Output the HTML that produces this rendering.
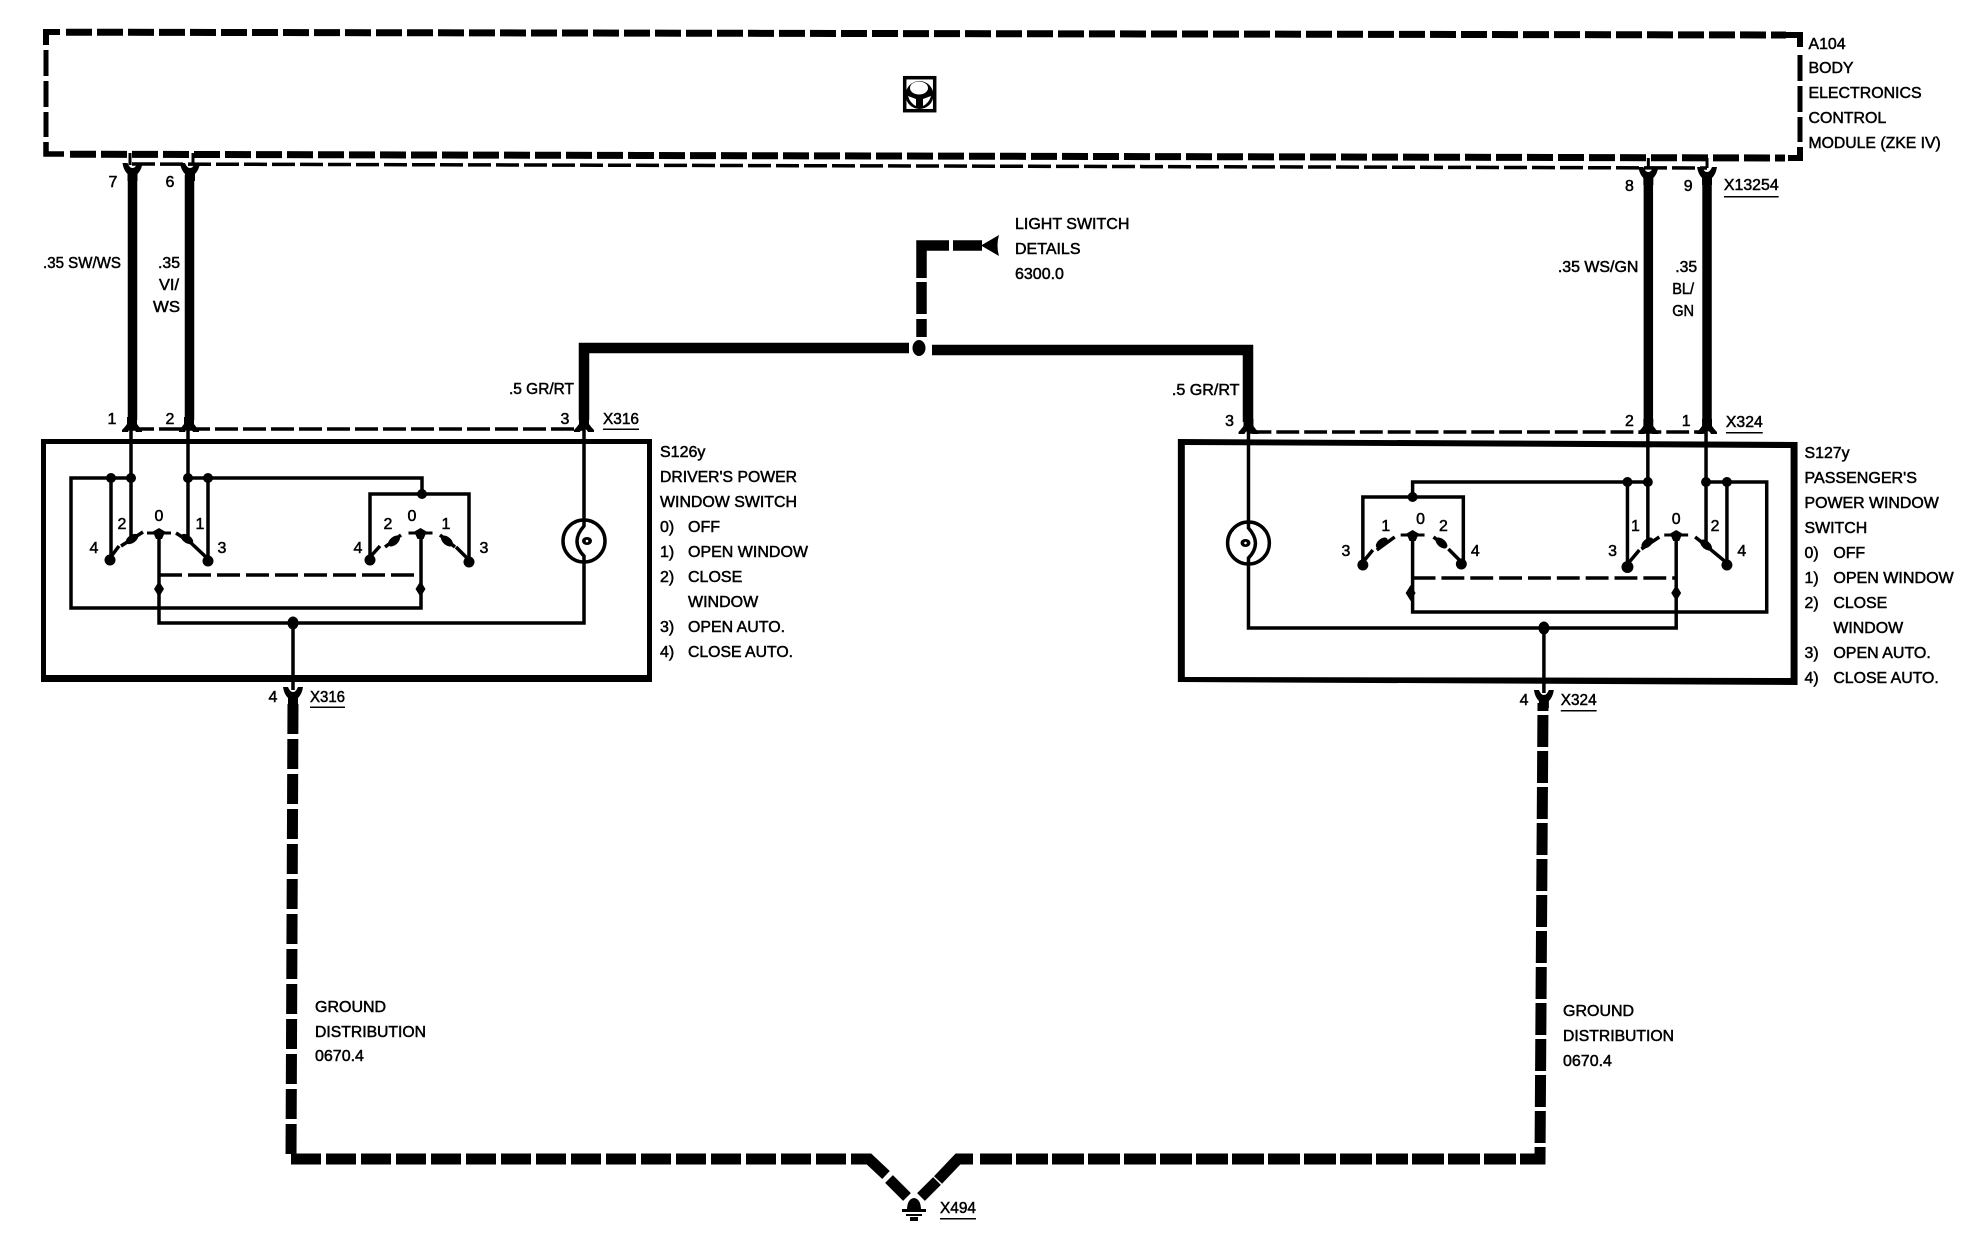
<!DOCTYPE html>
<html>
<head>
<meta charset="utf-8">
<title>Power window diagram</title>
<style>
html,body{margin:0;padding:0;background:#fff;width:1984px;height:1248px;overflow:hidden}
svg{display:block}
text{font-family:"Liberation Sans",sans-serif;font-size:16px;fill:#000;stroke:#000;stroke-width:.5px}
.m,.m text{text-anchor:middle}
</style>
</head>
<body>
<svg width="1984" height="1248" viewBox="0 0 1984 1248" xmlns="http://www.w3.org/2000/svg">
<defs>
<path id="ya" d="M-5 -15V-8Q-7 -5 -10 -2V0H-4Q-3 -3 0 -3Q3 -3 4 0H10V-2Q7 -5 5 -8V-15Z"/>
<path id="yb" d="M-10 0H-5Q-3 5 0 5Q3 5 5 0H10Q9 7 5 11V18H-5V11Q-9 7 -10 0Z"/>
<path id="pole" d="M-12 -1.500H-6L0 -5L6 -1.500H12V1.500H5L3 6H-3L-5 1.500H-12Z"/>
</defs>
<rect width="1984" height="1248" fill="#fff"/>

<!-- Module A104 -->
<g fill="none" stroke="#000">
<path d="M66 32.200L1786 35" stroke-width="7" stroke-dasharray="26 5"/>
<path d="M46 45V32H60" stroke-width="6"/>
<path d="M46 50V137" stroke-width="5" stroke-dasharray="26 5"/>
<path d="M46 142V154H64" stroke-width="5.500"/>
<path d="M70 154.200L1785 158" stroke-width="7" stroke-dasharray="26 5"/>
<path d="M1786 35H1800V47" stroke-width="6"/>
<path d="M1800 55V142" stroke-width="5" stroke-dasharray="26 5"/>
<path d="M1800 147V158H1788" stroke-width="6"/>
<path d="M132 164L1707 168" stroke-width="3.500" stroke-dasharray="23 5"/>
<path d="M130 153V165M193 153V165" stroke-width="3"/>
</g>
<!-- steering icon -->
<rect x="904.700" y="77.700" width="30" height="33" fill="none" stroke="#000" stroke-width="3.500"/>
<circle cx="919.500" cy="95" r="14" fill="#000"/>
<ellipse cx="919" cy="88" rx="9" ry="6.500" fill="#fff"/>
<path d="M908 96Q910 103 916 106V99ZM931 96Q929 103 923 106V99Z" fill="#fff"/>

<!-- Left upper thick wires -->
<g fill="none" stroke="#000" stroke-width="9.500">
<path d="M132.500 175V420"/>
<path d="M189.500 175V420"/>
</g>
<use href="#yb" x="132.500" y="163"/>
<use href="#yb" x="190" y="163"/>

<!-- Light switch feed -->
<g fill="none" stroke="#000" stroke-width="10.500">
<path d="M921.500 278V245.500H949"/>
<path d="M953 245.500H982"/>
<path d="M921.500 282V314"/>
<path d="M921.500 319V337"/>
<path d="M909 348H584V420"/>
<path d="M932 350H1248V422"/>
</g>
<path d="M981 245.500L999 235Q996 245.500 999 256Z" fill="#000"/>
<ellipse cx="919" cy="348" rx="6.500" ry="8" fill="#000"/>

<!-- Left connector dashes -->
<path d="M131 429H584" fill="none" stroke="#000" stroke-width="3.500" stroke-dasharray="23 5"/>
<use href="#ya" x="132" y="432"/>
<use href="#ya" x="189" y="432"/>
<use href="#ya" x="584" y="432"/>
<use href="#yb" x="293" y="687"/>

<!-- Left switch box -->
<path fill-rule="evenodd" d="M41 439H652V682H41ZM46 444V675H647V444Z"/>
<g fill="none" stroke="#000" stroke-width="3.500">
<path d="M131 425V539"/>
<path d="M188 425V539"/>
<path d="M584 425V526Q577 534 577 541Q577 549 584 556V623H159V533"/>
<path d="M111 478H71V608H421V533"/>
<path d="M131 478H111V558"/>
<path d="M188 478H422V494"/>
<path d="M208 478V560"/>
<path d="M370 558V494H469V560"/>
<path d="M293 623V690"/>
<path d="M159 575H420" stroke-dasharray="23 6"/>
<circle cx="584" cy="541" r="21"/>
</g>
<ellipse cx="587" cy="541" rx="5" ry="4" fill="#000"/>
<circle cx="587" cy="541" r="1.300" fill="#fff"/>
<!-- Left switch contacts -->
<g fill="none" stroke="#000" stroke-width="3.500">
<path d="M110 558L119 546"/><path d="M121 546L143 532"/>
<path d="M176 533L190 542"/><path d="M190 542L207 558"/>
<path d="M371 556L380 546"/><path d="M385 547L401 535"/>
<path d="M440 535L455 547"/><path d="M456 547L469 560"/>
</g>
<use href="#pole" x="159" y="533"/>
<use href="#pole" x="420.500" y="533"/>
<g fill="#000">
<circle cx="111" cy="478" r="5"/><circle cx="131" cy="478" r="5"/><circle cx="188" cy="478" r="5"/><circle cx="208" cy="478" r="5"/>
<circle cx="422" cy="494" r="5"/>
<circle cx="110" cy="560" r="5.500"/><circle cx="208" cy="561" r="5.500"/><circle cx="370" cy="560" r="5.500"/><circle cx="469" cy="562" r="5.500"/>
<ellipse cx="132" cy="539" rx="7" ry="4" transform="rotate(-35 132 539)"/>
<ellipse cx="187" cy="539" rx="7" ry="4" transform="rotate(35 187 539)"/>
<ellipse cx="394" cy="541" rx="7" ry="4" transform="rotate(-40 394 541)"/>
<ellipse cx="447" cy="541" rx="7" ry="4" transform="rotate(40 447 541)"/>
<path d="M159 581L164 589L159 597L154 589Z"/><path d="M420.500 581L425.500 589L420.500 597L415.500 589Z"/>
<ellipse cx="293" cy="623" rx="5.500" ry="6.500"/>
</g>

<!-- Left ground wire and V -->
<g fill="none" stroke="#000" stroke-width="11">
<path d="M846 1159H291L293 700" stroke-dasharray="30 5"/>
<path d="M886 1175L869 1159H851"/>
<path d="M907 1197L889 1179"/>
<path d="M921 1197L937 1181"/>
</g>
<!-- Ground symbol -->
<g fill="#000">
<path d="M907 1210Q907 1199 914 1198Q921 1199 921 1210Z"/>
<rect x="902" y="1209" width="24" height="3"/>
<rect x="906" y="1214" width="16" height="2"/>
<rect x="910" y="1217" width="8" height="4"/>
</g>

<!-- Right half -->
<g transform="translate(1150 0) scale(.9947 1) translate(-1150 0)">
<g fill="none" stroke="#000" stroke-width="9.500">
<path d="M1651 178V422"/>
<path d="M1710 178V422"/>
</g>
<path d="M1651 158V168M1710 158V168" fill="none" stroke="#000" stroke-width="3"/>
<use href="#yb" x="1651" y="167"/>
<use href="#yb" x="1710" y="167"/>
<path d="M1249 432H1709" fill="none" stroke="#000" stroke-width="3.500" stroke-dasharray="23 5"/>
<use href="#ya" x="1249" y="434"/>
<use href="#ya" x="1651" y="434"/>
<use href="#ya" x="1710" y="434"/>
<use href="#yb" x="1546" y="690"/>

<path fill-rule="evenodd" d="M1178 439L1801 442V685L1178 682ZM1185 445V677L1794 678V448Z"/>
<g fill="none" stroke="#000" stroke-width="3.500">
<path d="M1249 427V528Q1256 536 1256 543Q1256 551 1249 558V628H1679V535"/>
<path d="M1650.500 427V543"/>
<path d="M1709 427V545"/>
<path d="M1650 482H1414V497"/>
<path d="M1630 482V565"/>
<path d="M1709 482H1770V612H1414V535"/>
<path d="M1730 482V563"/>
<path d="M1364 563V497H1465V562"/>
<path d="M1546 628V693"/>
<path d="M1414 578H1679" stroke-dasharray="23 6"/>
<circle cx="1249" cy="543" r="21"/>
</g>
<ellipse cx="1246" cy="543" rx="5" ry="4" fill="#000"/>
<circle cx="1246" cy="543" r="1.300" fill="#fff"/>
<g fill="none" stroke="#000" stroke-width="3.500">
<path d="M1365 561L1374 550"/><path d="M1378 550L1396 537"/>
<path d="M1435 537L1448 547"/><path d="M1450 549L1463 562"/>
<path d="M1631 563L1642 550"/><path d="M1644 549L1662 537"/>
<path d="M1698 537L1711 547"/><path d="M1713 549L1730 563"/>
</g>
<use href="#pole" x="1414" y="535"/>
<use href="#pole" x="1679" y="535"/>
<g fill="#000">
<circle cx="1630" cy="482" r="5"/><circle cx="1650.500" cy="482" r="5"/><circle cx="1709" cy="482" r="5"/><circle cx="1730" cy="482" r="5"/>
<circle cx="1414" cy="497" r="5"/>
<circle cx="1364" cy="565" r="5.500"/><circle cx="1463" cy="564" r="5.500"/><circle cx="1630" cy="567" r="6"/><circle cx="1730" cy="565" r="5.500"/>
<ellipse cx="1383" cy="543" rx="7" ry="4" transform="rotate(-40 1383 543)"/>
<ellipse cx="1443" cy="543" rx="7" ry="4" transform="rotate(40 1443 543)"/>
<ellipse cx="1650" cy="543" rx="7" ry="4" transform="rotate(-40 1650 543)"/>
<ellipse cx="1709" cy="545" rx="7" ry="4" transform="rotate(40 1709 545)"/>
<path d="M1412 585L1417 593L1412 601L1407 593Z"/><path d="M1679 585L1684 593L1679 601L1674 593Z"/>
<ellipse cx="1546" cy="628" rx="5.500" ry="6.500"/>
</g>

<!-- Labels on the right half -->
<text x="1812" y="49">A104</text>
<text x="1812" y="73">BODY</text>
<text x="1812" y="98">ELECTRONICS</text>
<text x="1812" y="123">CONTROL</text>
<text x="1812" y="148" textLength="133" lengthAdjust="spacingAndGlyphs">MODULE (ZKE IV)</text>
<text class="m" x="1632" y="191">8</text>
<text class="m" x="1691" y="191">9</text>
<text x="1727" y="190" textLength="55" lengthAdjust="spacingAndGlyphs">X13254</text>
<rect x="1727" y="196" width="55" height="1.500"/>
<text x="1560" y="272" textLength="81" lengthAdjust="spacingAndGlyphs">.35 WS/GN</text>
<text x="1678" y="272" textLength="22" lengthAdjust="spacingAndGlyphs">.35</text>
<text x="1675" y="294" textLength="22" lengthAdjust="spacingAndGlyphs">BL/</text>
<text x="1675" y="316" textLength="22" lengthAdjust="spacingAndGlyphs">GN</text>
<text x="1172" y="395" textLength="68" lengthAdjust="spacingAndGlyphs">.5 GR/RT</text>
<text class="m" x="1230" y="426">3</text>
<text class="m" x="1632" y="426">2</text>
<text class="m" x="1689" y="426">1</text>
<text x="1729" y="427" textLength="37" lengthAdjust="spacingAndGlyphs">X324</text>
<rect x="1729" y="432" width="37" height="1.500"/>
<text x="1808" y="458">S127y</text>
<text x="1808" y="483" textLength="113" lengthAdjust="spacingAndGlyphs">PASSENGER'S</text>
<text x="1808" y="508" textLength="135" lengthAdjust="spacingAndGlyphs">POWER WINDOW</text>
<text x="1808" y="533">SWITCH</text>
<text x="1808" y="558">0)</text><text x="1837" y="558">OFF</text>
<text x="1808" y="583">1)</text><text x="1837" y="583" textLength="121" lengthAdjust="spacingAndGlyphs">OPEN WINDOW</text>
<text x="1808" y="608">2)</text><text x="1837" y="608">CLOSE</text>
<text x="1837" y="633">WINDOW</text>
<text x="1808" y="658">3)</text><text x="1837" y="658" textLength="98" lengthAdjust="spacingAndGlyphs">OPEN AUTO.</text>
<text x="1808" y="683">4)</text><text x="1837" y="683" textLength="106" lengthAdjust="spacingAndGlyphs">CLOSE AUTO.</text>
<g class="m">
<text x="1347" y="556">3</text><text x="1387" y="531">1</text><text x="1422" y="524">0</text><text x="1445" y="531">2</text><text x="1477" y="556">4</text>
<text x="1615" y="556">3</text><text x="1638" y="531">1</text><text x="1679" y="524">0</text><text x="1718" y="531">2</text><text x="1745" y="556">4</text>
</g>
<text class="m" x="1526" y="705">4</text>
<text x="1563" y="705" textLength="36" lengthAdjust="spacingAndGlyphs">X324</text>
<rect x="1563" y="710" width="36" height="1.500"/>
</g>

<!-- Right ground wire -->
<g fill="none" stroke="#000" stroke-width="11">
<path d="M980 1159H1540L1543 703" stroke-dasharray="32 4"/>
<path d="M938 1180L958 1159H973"/>
</g>

<!-- Left labels -->
<text class="m" x="113" y="187">7</text>
<text class="m" x="170" y="187">6</text>
<text x="43" y="268" textLength="78" lengthAdjust="spacingAndGlyphs">.35 SW/WS</text>
<text x="158" y="268" textLength="22" lengthAdjust="spacingAndGlyphs">.35</text>
<text x="159" y="290" textLength="20" lengthAdjust="spacingAndGlyphs">VI/</text>
<text x="153" y="312" textLength="27" lengthAdjust="spacingAndGlyphs">WS</text>

<text x="1015" y="229">LIGHT SWITCH</text>
<text x="1015" y="254">DETAILS</text>
<text x="1015" y="279">6300.0</text>

<text x="509" y="394" textLength="65" lengthAdjust="spacingAndGlyphs">.5 GR/RT</text>

<text class="m" x="112" y="424">1</text>
<text class="m" x="170" y="424">2</text>
<text class="m" x="565" y="424">3</text>
<text x="603" y="424" textLength="36" lengthAdjust="spacingAndGlyphs">X316</text>
<rect x="603" y="428.500" width="36" height="1.500"/>

<text x="660" y="457">S126y</text>
<text x="660" y="482" textLength="137" lengthAdjust="spacingAndGlyphs">DRIVER'S POWER</text>
<text x="660" y="507" textLength="137" lengthAdjust="spacingAndGlyphs">WINDOW SWITCH</text>
<text x="660" y="532">0)</text><text x="688" y="532">OFF</text>
<text x="660" y="557">1)</text><text x="688" y="557" textLength="120" lengthAdjust="spacingAndGlyphs">OPEN WINDOW</text>
<text x="660" y="582">2)</text><text x="688" y="582">CLOSE</text>
<text x="688" y="607">WINDOW</text>
<text x="660" y="632">3)</text><text x="688" y="632" textLength="97" lengthAdjust="spacingAndGlyphs">OPEN AUTO.</text>
<text x="660" y="657">4)</text><text x="688" y="657" textLength="105" lengthAdjust="spacingAndGlyphs">CLOSE AUTO.</text>

<g class="m">
<text x="94" y="553">4</text><text x="122" y="529">2</text><text x="159" y="521">0</text><text x="200" y="529">1</text><text x="222" y="553">3</text>
<text x="358" y="553">4</text><text x="388" y="529">2</text><text x="412" y="521">0</text><text x="446" y="529">1</text><text x="484" y="553">3</text>
</g>

<text class="m" x="273" y="702">4</text>
<text x="310" y="702" textLength="35" lengthAdjust="spacingAndGlyphs">X316</text>
<rect x="310" y="706.500" width="35" height="1.500"/>

<text x="315" y="1012">GROUND</text>
<text x="315" y="1037" textLength="111" lengthAdjust="spacingAndGlyphs">DISTRIBUTION</text>
<text x="315" y="1061">0670.4</text>
<text x="1563" y="1016">GROUND</text>
<text x="1563" y="1041" textLength="111" lengthAdjust="spacingAndGlyphs">DISTRIBUTION</text>
<text x="1563" y="1066">0670.4</text>

<text x="940" y="1213" textLength="36" lengthAdjust="spacingAndGlyphs">X494</text>
<rect x="940" y="1218" width="36" height="1.500"/>
</svg>
</body>
</html>
